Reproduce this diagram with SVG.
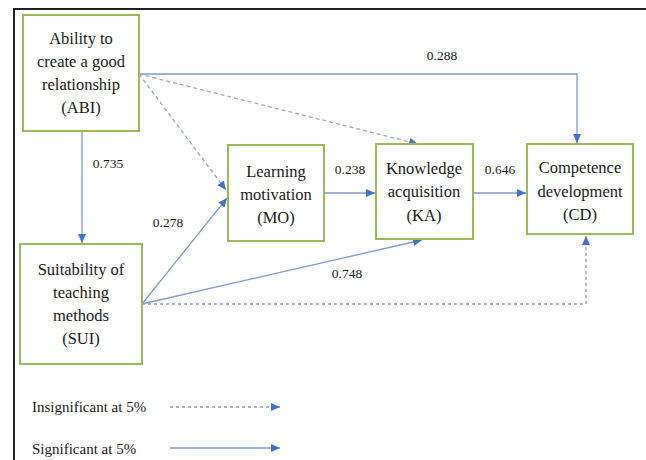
<svg xmlns="http://www.w3.org/2000/svg" width="646" height="460" viewBox="0 0 646 460">
<style>
.box{fill:#fff;stroke:#9bbb59;stroke-width:2}
text{font-family:'Liberation Serif','Times New Roman','DejaVu Serif',serif;fill:#1a1a1a}
.t{font-size:16.5px;text-anchor:middle}
.n{font-size:13.5px;text-anchor:middle}
.lg{font-size:15px}
.s{fill:none;stroke:#7f9bd0;stroke-width:1.3}
.d{fill:none;stroke:#9aa8c8;stroke-width:1.3;stroke-dasharray:4 3}
.o{fill:none;stroke:#8e9cbf;stroke-width:1.3;stroke-dasharray:3 3}
</style>
<defs>
<marker id="ah" markerUnits="userSpaceOnUse" markerWidth="10" markerHeight="9" refX="9" refY="4" orient="auto">
<path d="M0,0 L9,4 L0,8 z" fill="#4472c4"/>
</marker>
</defs>
<rect width="646" height="460" fill="#fff"/>
<g id="frame">
<path d="M14,460 V9 H646" fill="none" stroke="#222" stroke-width="2"/>
</g>
<g id="connectors">
<path class="s" d="M139,74 H577 V143" marker-end="url(#ah)"/>
<path class="s" d="M82,131 V243" marker-end="url(#ah)"/>
<path class="d" d="M139,74 L226,190" marker-end="url(#ah)"/>
<path class="d" d="M139,74 L418,144" marker-end="url(#ah)"/>
<path class="s" d="M142,304 L227,198" marker-end="url(#ah)"/>
<path class="s" d="M142,304 L422,240" marker-end="url(#ah)"/>
<path class="o" d="M142,304 H586 V236" marker-end="url(#ah)"/>
<path class="s" d="M324,193 H375" marker-end="url(#ah)"/>
<path class="s" d="M473,193 H526" marker-end="url(#ah)"/>
<text class="n" x="442" y="60">0.288</text>
<text class="n" x="108" y="168">0.735</text>
<text class="n" x="168" y="227">0.278</text>
<text class="n" x="350" y="174">0.238</text>
<text class="n" x="500" y="174">0.646</text>
<text class="n" x="347" y="278">0.748</text>
</g>
<g id="ABI">
<rect class="box" x="23" y="15" width="116" height="116"/>
<text class="t" x="81" y="44">Ability to</text>
<text class="t" x="81" y="67">create a good</text>
<text class="t" x="81" y="90">relationship</text>
<text class="t" x="81" y="113">(ABI)</text>
</g>
<g id="MO">
<rect class="box" x="228" y="145" width="96" height="96"/>
<text class="t" x="276" y="177">Learning</text>
<text class="t" x="276" y="200">motivation</text>
<text class="t" x="276" y="223">(MO)</text>
</g>
<g id="KA">
<rect class="box" x="376" y="144" width="97" height="95"/>
<text class="t" x="424" y="174">Knowledge</text>
<text class="t" x="424" y="197">acquisition</text>
<text class="t" x="424" y="221">(KA)</text>
</g>
<g id="CD">
<rect class="box" x="527" y="144" width="106" height="90"/>
<text class="t" x="580" y="173">Competence</text>
<text class="t" x="580" y="197">development</text>
<text class="t" x="580" y="220">(CD)</text>
</g>
<g id="SUI">
<rect class="box" x="20" y="244" width="122" height="120"/>
<text class="t" x="81" y="275">Suitability of</text>
<text class="t" x="81" y="298">teaching</text>
<text class="t" x="81" y="321">methods</text>
<text class="t" x="81" y="344">(SUI)</text>
</g>
<g id="legend">
<text class="lg" x="32" y="412">Insignificant at 5%</text>
<path class="o" d="M170,407 H280" marker-end="url(#ah)"/>
<text class="lg" x="32" y="454">Significant at 5%</text>
<path class="s" d="M170,448 H280" marker-end="url(#ah)"/>
</g>
</svg>
